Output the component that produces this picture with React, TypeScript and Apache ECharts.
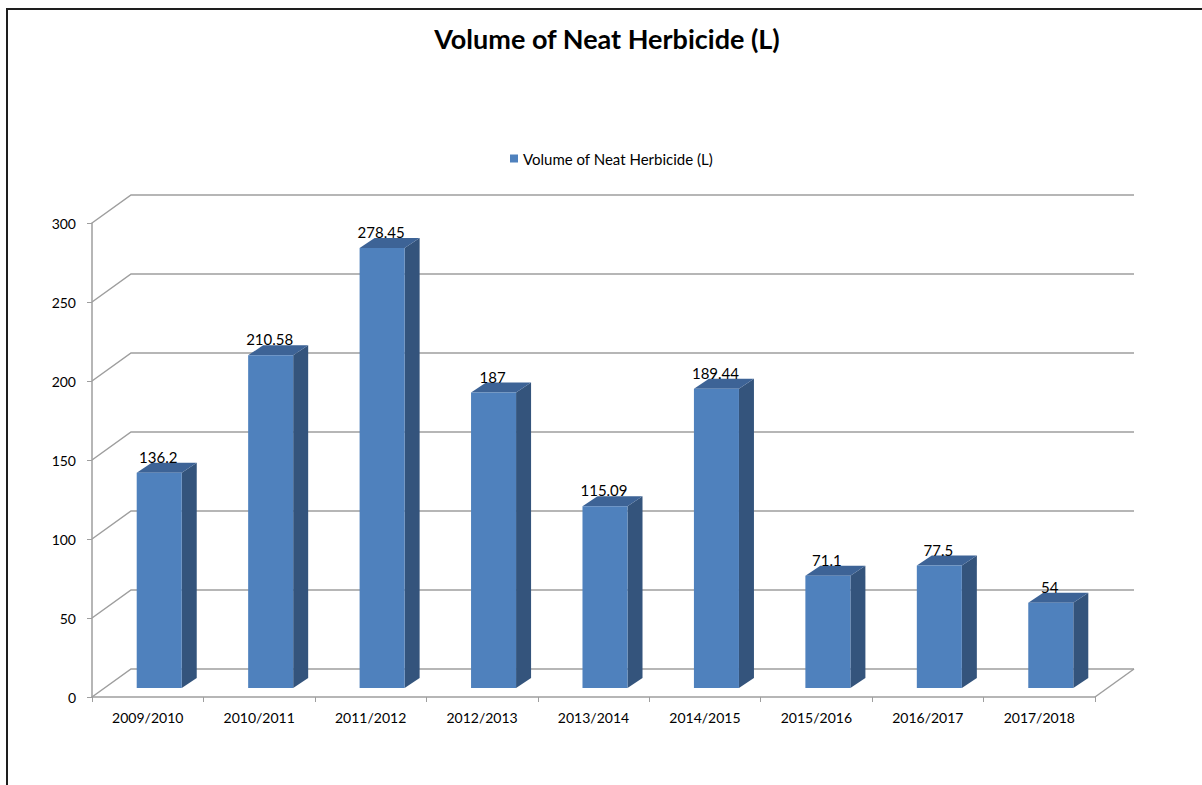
import React, { useEffect, useRef } from "react";
import * as echarts from "echarts";

const TITLE = "Volume of Neat Herbicide (L)";
const SERIES_NAME = "Volume of Neat Herbicide (L)";
const categories = [
  "2009/2010",
  "2010/2011",
  "2011/2012",
  "2012/2013",
  "2013/2014",
  "2014/2015",
  "2015/2016",
  "2016/2017",
  "2017/2018",
];
const values = [136.2, 210.58, 278.45, 187, 115.09, 189.44, 71.1, 77.5, 54];
const yTicks = [0, 50, 100, 150, 200, 250, 300];

const FONT = "Lato, 'Liberation Sans', sans-serif";
const GRID_COLOR = "#9e9e9e";
const FRONT = "#4f81bd";
const SIDE = "#34547c";
const TOP = "#3d6396";

// 3D geometry (pixels)
const WALL_DX = 39;
const WALL_DY = 28;
const BAR_OFF_X = 12;
const BAR_OFF_Y = 9;
const BAR_DEPTH_X = 15;
const BAR_DEPTH_Y = 10;
const BAR_FRAC = 0.404;

export default function App() {
  const ref = useRef<HTMLDivElement>(null);

  useEffect(() => {
    if (!ref.current) return;
    const chart = echarts.init(ref.current, null, { renderer: "svg" });

    const option: any = {
      animation: false,
      backgroundColor: "#ffffff",
      title: {
        text: TITLE,
        left: 602,
        textAlign: "center",
        top: 20,
        textStyle: {
          fontFamily: FONT,
          fontWeight: "bold",
          fontSize: 27,
          color: "#000",
        },
      },
      legend: {
        data: [SERIES_NAME],
        left: 505,
        top: 146,
        itemWidth: 8,
        itemHeight: 8,
        itemGap: 5,
        icon: "rect",
        textStyle: { fontFamily: FONT, fontSize: 15, color: "#000" },
      },
      grid: { left: 92, top: 223, right: 107, bottom: 88 },
      xAxis: {
        type: "category",
        data: categories,
        boundaryGap: true,
        axisLine: { show: true, lineStyle: { color: GRID_COLOR, width: 1.5 } },
        axisTick: { show: true, length: 5, lineStyle: { color: GRID_COLOR } },
        axisLabel: {
          fontFamily: FONT,
          fontSize: 14,
          color: "#000",
          margin: 13,
        },
        splitLine: { show: false },
      },
      yAxis: {
        type: "value",
        min: 0,
        max: 300,
        interval: 50,
        axisLine: { show: true, lineStyle: { color: GRID_COLOR, width: 1.5 } },
        axisTick: { show: true, length: 5, lineStyle: { color: GRID_COLOR } },
        axisLabel: {
          fontFamily: FONT,
          fontSize: 14,
          color: "#000",
          margin: 16,
        },
        splitLine: { show: false },
      },
      graphic: [
        {
          type: "rect",
          shape: { x: 7, y: 9, width: 1400, height: 1000 },
          style: { fill: "none", stroke: "#1e1e1e", lineWidth: 2 },
          silent: true,
        },
      ],
      series: [
        {
          name: "walls",
          type: "custom",
          z: 1,
          silent: true,
          data: yTicks.map((v) => [0, v]),
          renderItem: (params: any, api: any) => {
            const v = api.value(1);
            const p = api.coord([0, v]);
            const cs = params.coordSys;
            const left = cs.x;
            const right = cs.x + cs.width;
            const y = p[1];
            const children: any[] = [
              {
                type: "polyline",
                shape: {
                  points: [
                    [left, y],
                    [left + WALL_DX, y - WALL_DY],
                    [right + WALL_DX, y - WALL_DY],
                  ],
                },
                style: { fill: "none", stroke: GRID_COLOR, lineWidth: 1.5 },
              },
            ];
            if (v === 0) {
              children.push({
                type: "line",
                shape: {
                  x1: right,
                  y1: y,
                  x2: right + WALL_DX,
                  y2: y - WALL_DY,
                },
                style: { stroke: GRID_COLOR, lineWidth: 1.5 },
              });
            }
            return { type: "group", children };
          },
        },
        {
          name: SERIES_NAME,
          type: "custom",
          z: 3,
          itemStyle: { color: FRONT },
          data: values.map((v, i) => [i, v]),
          renderItem: (params: any, api: any) => {
            const idx = api.value(0);
            const v = api.value(1);
            const p0 = api.coord([idx, 0]);
            const p1 = api.coord([idx, v]);
            const band = api.size([1, 0])[0];
            const w = band * BAR_FRAC;
            const cx = p0[0] + BAR_OFF_X - 0.5;
            const l = cx - w / 2;
            const r = cx + w / 2;
            const b = p0[1] - BAR_OFF_Y;
            const t = p1[1] - BAR_OFF_Y;
            return {
              type: "group",
              children: [
                {
                  type: "polygon",
                  shape: {
                    points: [
                      [r, t],
                      [r + BAR_DEPTH_X, t - BAR_DEPTH_Y],
                      [r + BAR_DEPTH_X, b - BAR_DEPTH_Y],
                      [r, b],
                    ],
                  },
                  style: { fill: SIDE },
                },
                {
                  type: "polygon",
                  shape: {
                    points: [
                      [l, t],
                      [l + BAR_DEPTH_X, t - BAR_DEPTH_Y],
                      [r + BAR_DEPTH_X, t - BAR_DEPTH_Y],
                      [r, t],
                    ],
                  },
                  style: { fill: TOP },
                },
                {
                  type: "rect",
                  shape: { x: l, y: t, width: w, height: b - t },
                  style: { fill: FRONT },
                },
                {
                  type: "text",
                  x: cx - 1,
                  y: t - 16,
                  style: {
                    text: String(v),
                    fontFamily: FONT,
                    fontSize: 15,
                    fill: "#000",
                    align: "center",
                    verticalAlign: "middle",
                  },
                },
              ],
            };
          },
        },
      ],
    };

    chart.setOption(option);
    return () => chart.dispose();
  }, []);

  return (
    <div
      ref={ref}
      style={{
        position: "fixed",
        left: 0,
        top: 0,
        width: 1202,
        height: 785,
        background: "#fff",
      }}
    />
  );
}
